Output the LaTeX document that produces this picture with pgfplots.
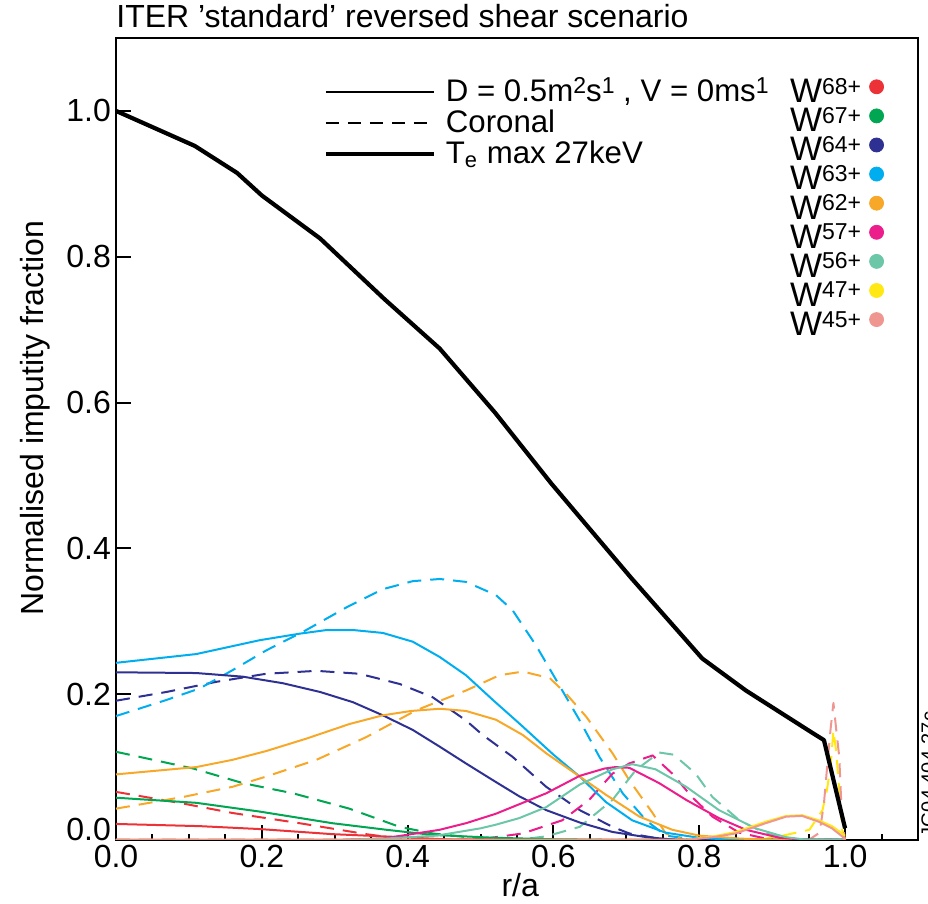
\documentclass[border=0pt]{standalone}
\usepackage{fontspec}
\setmainfont{Liberation Sans}
\usepackage{pgfplots}
\pgfplotsset{compat=1.18}
\definecolor{c68}{RGB}{237,50,55}
\definecolor{c67}{RGB}{0,166,81}
\definecolor{c64}{RGB}{46,49,146}
\definecolor{c63}{RGB}{0,174,239}
\definecolor{c62}{RGB}{247,168,40}
\definecolor{c57}{RGB}{236,30,140}
\definecolor{c56}{RGB}{108,198,168}
\definecolor{c47}{RGB}{255,232,20}
\definecolor{c45}{RGB}{240,150,145}
\newcommand{\sups}[1]{\raisebox{4.2pt}{\fontsize{11.5}{11.5}\selectfont #1}}
\newcommand{\fs}{\fontsize{16}{16}\selectfont}
\begin{document}
\begin{tikzpicture}
\begin{axis}[
  name=main,
  scale only axis, width=401pt, height=401pt,
  xmin=0, xmax=1.1, ymin=0, ymax=1.1,
  axis line style={line width=1pt},
  xtick={0,0.2,...,1.2}, ytick={0.2,0.4,...,1.0},
  extra y ticks={0},
  extra y tick style={yticklabel style={yshift=5.5pt}},
  minor x tick num=3,
  tick align=inside, tick pos=left,
  major tick length=7.5pt, minor tick length=3pt,
  every tick/.style={line width=1pt, black},
  /pgf/number format/assume math mode=true,
  /pgf/number format/.cd, fixed, fixed zerofill, precision=1, /pgfplots/.cd,
  ticklabel style={font=\fs},
  xticklabel style={yshift=1pt},
  yticklabel style={xshift=1pt},
  xlabel={r/a}, ylabel={Normalised imputity fraction},
  xlabel style={at={(axis description cs:0.504,-0.056)}, anchor=center, font=\fs},
  ylabel style={at={(axis description cs:-0.101,0.526)}, anchor=center, font=\fs},
  legend style={at={(axis description cs:0.259,0.952)}, anchor=north west, draw=none, fill=none, inner sep=0pt, outer sep=0pt, font=\fontsize{15.6}{15.6}\selectfont,
    nodes={inner sep=1pt, text height=11.5pt, text depth=2pt}, column sep=4pt, row sep=0pt},
  legend cell align=left,
  legend image code/.code={\draw[#1] (0pt,0pt) -- (54pt,0pt);},
  every axis plot/.append style={line join=round},
]
\addlegendimage{black, line width=0.6pt}
\addlegendentry{D = 0.5m\sups{2}s\sups{1} , V = 0ms\sups{1}}
\addlegendimage{black, line width=0.6pt, dash pattern=on 6.5pt off 4.5pt}
\addlegendentry{Coronal}
\addlegendimage{black, line width=2.1pt}
\addlegendentry{T\textsubscript{e} max 27keV}

% ---------- coronal (dashed) ----------
\addplot[forget plot, c68, line width=1pt, dash pattern=on 7pt off 4.5pt] coordinates {
(0,0.066)(0.092,0.05)(0.16,0.037)(0.252,0.023)(0.343,0.008)(0.389,0.002)(0.45,0)(1.0,0)};
\addplot[forget plot, c67, line width=1pt, dash pattern=on 7pt off 4.5pt] coordinates {
(0,0.121)(0.106,0.098)(0.174,0.078)(0.243,0.064)(0.32,0.043)(0.389,0.018)(0.434,0.009)(0.5,0.002)(0.55,0)(1.0,0)};
\addplot[forget plot, c64, line width=1pt, dash pattern=on 7pt off 4.5pt] coordinates {
(0,0.191)(0.069,0.203)(0.138,0.217)(0.206,0.228)(0.275,0.232)(0.334,0.228)(0.389,0.214)(0.434,0.196)(0.48,0.164)(0.503,0.144)(0.544,0.114)(0.59,0.073)(0.636,0.041)(0.681,0.018)(0.704,0.009)(0.75,0.001)(0.8,0)(1.0,0)};
\addplot[forget plot, c63, line width=1pt, dash pattern=on 7pt off 4.5pt] coordinates {
(0,0.17)(0.069,0.192)(0.115,0.208)(0.16,0.233)(0.206,0.26)(0.261,0.288)(0.316,0.319)(0.366,0.344)(0.407,0.355)(0.444,0.358)(0.48,0.354)(0.521,0.336)(0.544,0.315)(0.576,0.267)(0.604,0.219)(0.636,0.164)(0.663,0.114)(0.695,0.064)(0.727,0.027)(0.754,0.006)(0.8,0)(1.0,0)};
\addplot[forget plot, c62, line width=1pt, dash pattern=on 7pt off 4.5pt] coordinates {
(0,0.043)(0.092,0.059)(0.16,0.073)(0.206,0.087)(0.275,0.11)(0.343,0.141)(0.412,0.178)(0.48,0.205)(0.526,0.226)(0.558,0.231)(0.595,0.222)(0.617,0.201)(0.645,0.169)(0.681,0.119)(0.704,0.082)(0.736,0.037)(0.754,0.009)(0.78,0)(1.0,0)};
\addplot[forget plot, c57, line width=1pt, dash pattern=on 7pt off 4.5pt] coordinates {
(0,0)(0.45,0)(0.5,0.001)(0.558,0.009)(0.612,0.027)(0.649,0.055)(0.681,0.091)(0.704,0.105)(0.736,0.116)(0.763,0.091)(0.79,0.059)(0.818,0.032)(0.855,0.01)(0.9,0)(1.0,0)};
\addplot[forget plot, c56, line width=1pt, dash pattern=on 7pt off 4.5pt] coordinates {
(0,0)(0.55,0)(0.59,0.005)(0.636,0.018)(0.681,0.055)(0.713,0.096)(0.745,0.12)(0.765,0.117)(0.795,0.091)(0.818,0.059)(0.855,0.027)(0.891,0.009)(0.93,0)(1.0,0)};
\addplot[forget plot, c47, line width=1pt, dash pattern=on 7pt off 4.5pt] coordinates {
(0,0)(0.88,0)(0.91,0.005)(0.951,0.014)(0.969,0.041)(0.975,0.068)(0.98,0.1)(0.984,0.15)(0.988,0.12)(0.992,0.068)(0.996,0.014)(1.0,0)};
\addplot[forget plot, c45, line width=1pt, dash pattern=on 7pt off 4.5pt] coordinates {
(0,0)(0.95,0)(0.965,0.01)(0.971,0.05)(0.975,0.096)(0.98,0.151)(0.984,0.188)(0.988,0.15)(0.992,0.114)(0.995,0.045)(0.999,0.005)(1.0,0)};

% ---------- transport (solid) ----------
\addplot[forget plot, c68, line width=1pt] coordinates {
(0,0.022)(0.115,0.019)(0.197,0.015)(0.297,0.008)(0.389,0.004)(0.45,0.001)(0.55,0)(1.0,0)};
\addplot[forget plot, c67, line width=1pt] coordinates {
(0,0.058)(0.11,0.051)(0.197,0.039)(0.297,0.023)(0.371,0.014)(0.434,0.007)(0.52,0.003)(0.6,0.001)(0.7,0)(1.0,0)};
\addplot[forget plot, c64, line width=1pt] coordinates {
(0,0.23)(0.11,0.229)(0.174,0.224)(0.229,0.215)(0.28,0.203)(0.325,0.189)(0.366,0.171)(0.407,0.151)(0.444,0.128)(0.48,0.105)(0.517,0.082)(0.553,0.06)(0.59,0.041)(0.636,0.024)(0.681,0.011)(0.727,0.004)(0.77,0)(1.0,0)};
\addplot[forget plot, c63, line width=1pt] coordinates {
(0,0.243)(0.11,0.255)(0.197,0.274)(0.252,0.283)(0.289,0.288)(0.325,0.288)(0.366,0.284)(0.407,0.272)(0.444,0.251)(0.48,0.226)(0.517,0.192)(0.553,0.16)(0.6,0.117)(0.636,0.087)(0.672,0.052)(0.708,0.027)(0.754,0.01)(0.8,0.003)(0.85,0)(1.0,0)};
\addplot[forget plot, c62, line width=1pt] coordinates {
(0,0.09)(0.11,0.1)(0.16,0.11)(0.206,0.122)(0.261,0.139)(0.32,0.159)(0.366,0.171)(0.405,0.177)(0.444,0.18)(0.48,0.177)(0.521,0.165)(0.558,0.144)(0.59,0.119)(0.636,0.087)(0.672,0.062)(0.718,0.032)(0.763,0.014)(0.8,0.006)(0.855,0.002)(0.9,0)(1.0,0)};
\addplot[forget plot, c57, line width=1pt] coordinates {
(0,0)(0.3,0)(0.366,0.002)(0.444,0.014)(0.48,0.023)(0.521,0.036)(0.553,0.049)(0.59,0.064)(0.636,0.088)(0.67,0.098)(0.685,0.1)(0.704,0.099)(0.745,0.078)(0.782,0.055)(0.827,0.03)(0.864,0.014)(0.91,0.003)(0.95,0)(1.0,0)};
\addplot[forget plot, c56, line width=1pt] coordinates {
(0,0)(0.3,0)(0.37,0.002)(0.44,0.006)(0.5,0.016)(0.521,0.021)(0.553,0.03)(0.59,0.045)(0.636,0.076)(0.681,0.097)(0.708,0.104)(0.74,0.097)(0.782,0.073)(0.827,0.041)(0.877,0.016)(0.918,0.004)(0.95,0)(1.0,0)};
\addplot[forget plot, c47, line width=1pt] coordinates {
(0,0)(0.78,0)(0.82,0.005)(0.85,0.011)(0.891,0.025)(0.919,0.033)(0.941,0.034)(0.964,0.027)(0.982,0.019)(1.0,0.006)};
\addplot[forget plot, c45, line width=1pt] coordinates {
(0,0)(0.78,0)(0.82,0.004)(0.85,0.009)(0.891,0.023)(0.919,0.032)(0.941,0.033)(0.964,0.025)(0.982,0.016)(0.996,0.005)(1.0,0)};

% ---------- Te ----------
\addplot[forget plot, black, line width=2.1pt] coordinates {
(0,1.0)(0.108,0.952)(0.166,0.915)(0.2,0.884)(0.28,0.825)(0.368,0.742)(0.444,0.674)(0.52,0.586)(0.597,0.489)(0.707,0.359)(0.782,0.274)(0.804,0.249)(0.864,0.205)(0.955,0.147)(0.971,0.137)(1.0,0.016)};
\end{axis}
\begin{axis}[
  at={(main.south west)}, anchor=south west,
  scale only axis, width=401pt, height=401pt,
  hide axis, xmin=0, xmax=1.1, ymin=0, ymax=1.1,
  legend style={at={(axis description cs:0.838,0.95)}, anchor=north west, draw=none, fill=none, inner sep=0pt, outer sep=0pt, font=\fontsize{17}{17}\selectfont,
    nodes={inner sep=1pt, text height=11.3pt, text depth=0.4pt}, column sep=3pt, row sep=0.85pt},
  legend plot pos=right,
  legend cell align=left,
  legend image code/.code={\fill[#1] (3.5pt,2.5pt) circle (3.5pt);},
]
\addlegendimage{color=c68}\addlegendentry{W\sups{68+}}
\addlegendimage{color=c67}\addlegendentry{W\sups{67+}}
\addlegendimage{color=c64}\addlegendentry{W\sups{64+}}
\addlegendimage{color=c63}\addlegendentry{W\sups{63+}}
\addlegendimage{color=c62}\addlegendentry{W\sups{62+}}
\addlegendimage{color=c57}\addlegendentry{W\sups{57+}}
\addlegendimage{color=c56}\addlegendentry{W\sups{56+}}
\addlegendimage{color=c47}\addlegendentry{W\sups{47+}}
\addlegendimage{color=c45}\addlegendentry{W\sups{45+}}
\end{axis}
\node[anchor=base west, inner sep=0pt, font=\fs] at ([yshift=5pt]main.north west) {ITER 'standard' reversed shear scenario};
\node[rotate=90, anchor=north west, inner sep=0pt, font=\fontsize{10}{10}\selectfont] at ([xshift=1.5pt,yshift=1pt]main.south east) {JG04.404-27c};
\pgfresetboundingbox
\path[use as bounding box] ([xshift=-58pt,yshift=-32pt]main.south west) rectangle ([xshift=5pt,yshift=19pt]main.north east);
\end{tikzpicture}
\end{document}
